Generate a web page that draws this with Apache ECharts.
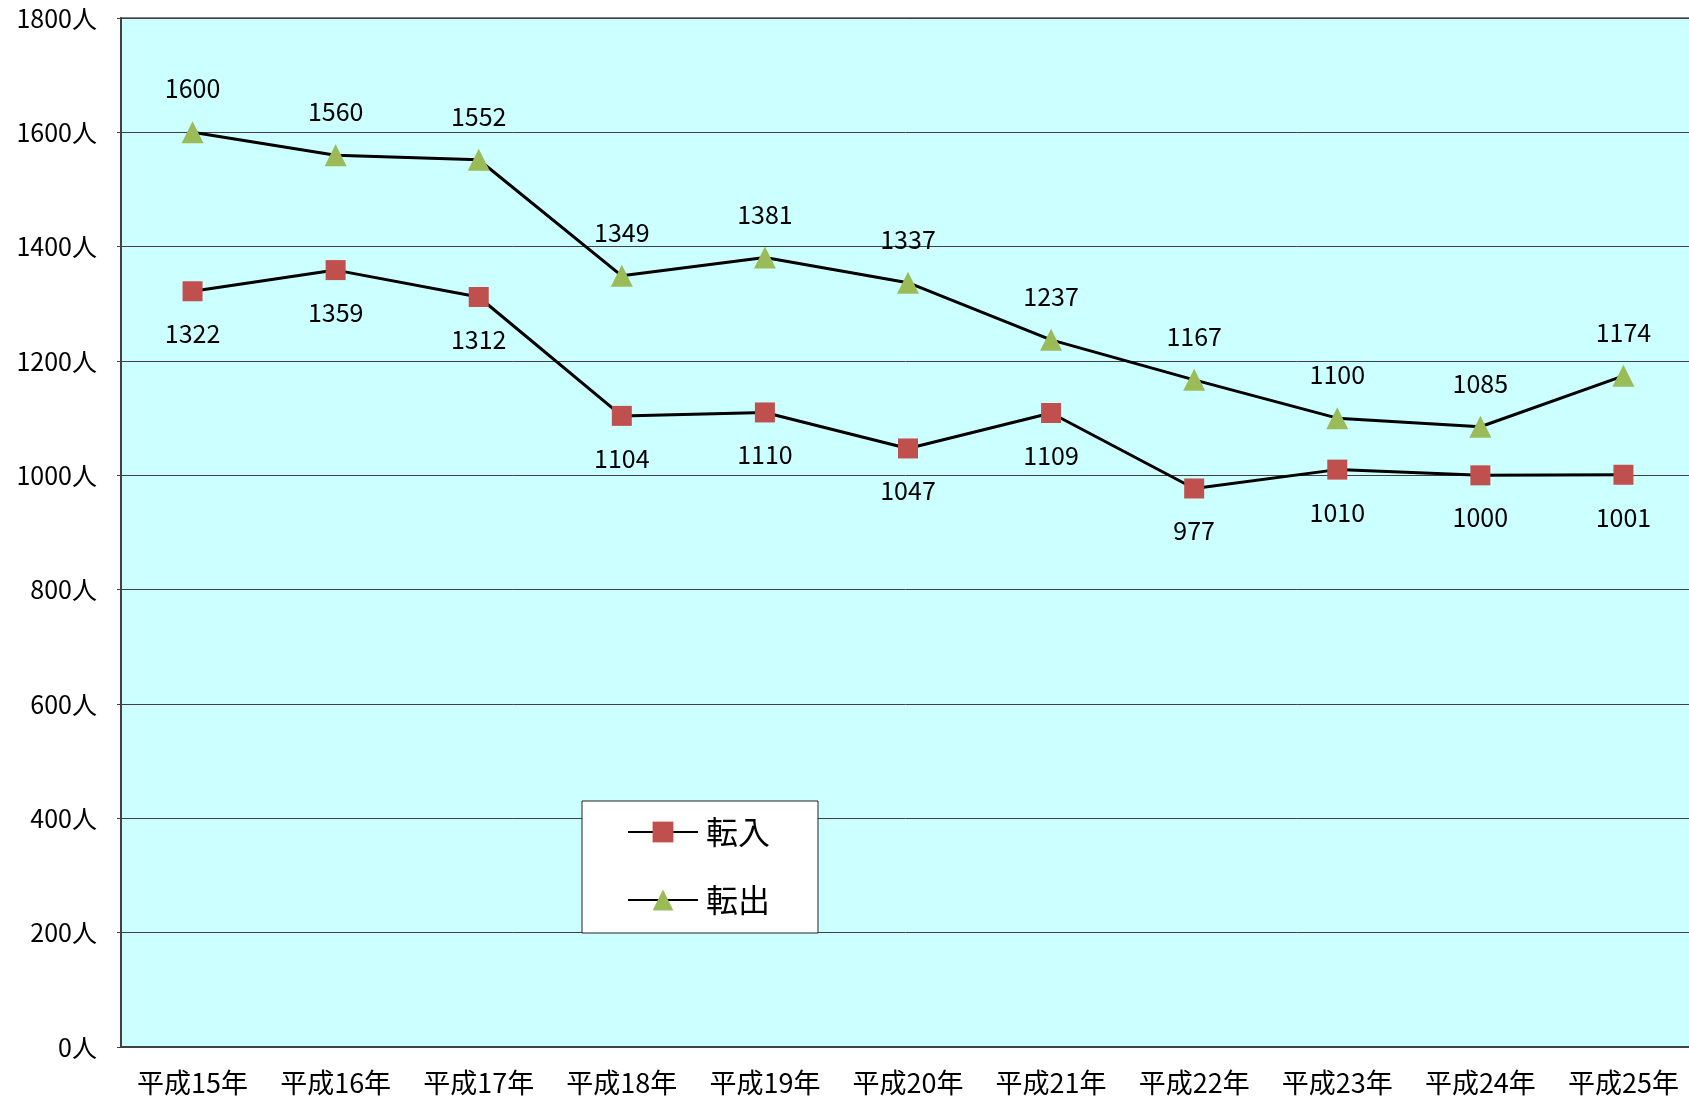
<!DOCTYPE html>
<html>
<head>
<meta charset="utf-8">
<script src="https://cdn.jsdelivr.net/npm/echarts@6/dist/echarts.min.js"></script>
<style>
  html, body { margin: 0; padding: 0; background: #fff; }
  #chart { width: 1689px; height: 1099px; }
</style>
</head>
<body>
<div id="chart"></div>
<script>
const years = ['平成15年', '平成16年', '平成17年', '平成18年', '平成19年', '平成20年', '平成21年', '平成22年', '平成23年', '平成24年', '平成25年'];
const tennyu = [1322, 1359, 1312, 1104, 1110, 1047, 1109, 977, 1010, 1000, 1001];
const tenshutsu = [1600, 1560, 1552, 1349, 1381, 1337, 1237, 1167, 1100, 1085, 1174];
const yTicks = { min: 0, max: 1800, interval: 200 };

const font = '"Noto Sans CJK JP", sans-serif';

const chart = echarts.init(document.querySelector('#chart'));

chart.setOption({
  animation: false,
  textStyle: { fontFamily: font, color: '#000' },
  grid: {
    left: 121,
    top: 18,
    width: 1574,
    bottom: 52,
    outerBoundsMode: 'none',
    containLabel: false,
    show: true,
    backgroundColor: '#CCFFFF',
    borderColor: '#808080',
    borderWidth: 2
  },
  legend: {
    orient: 'vertical',
    left: 582,
    top: 801,
    padding: [15, 48, 17, 45],
    itemGap: 36,
    itemWidth: 70,
    itemHeight: 26,
    backgroundColor: '#fff',
    borderColor: '#222',
    borderWidth: 1,
    textStyle: { fontSize: 32, fontFamily: font, color: '#000', padding: [0, 0, 0, 3] },
    data: ['転入', '転出']
  },
  xAxis: {
    type: 'category',
    data: years,
    boundaryGap: true,
    axisLine: { lineStyle: { color: '#404040', width: 2 } },
    axisTick: { inside: true, length: 7, interval: 0, lineStyle: { color: '#000', width: 1 } },
    axisLabel: { fontSize: 27, color: '#000', margin: 22, interval: 0, hideOverlap: false, fontFamily: font }
  },
  yAxis: {
    type: 'value',
    min: yTicks.min,
    max: yTicks.max,
    interval: yTicks.interval,
    axisLine: { show: true, lineStyle: { color: '#404040', width: 2 } },
    axisTick: { show: true, length: 4, lineStyle: { color: '#404040' } },
    axisLabel: { fontSize: 25, color: '#000', margin: 24, fontFamily: font, formatter: v => v + '人' },
    splitLine: { lineStyle: { color: '#404040', width: 1 } }
  },
  series: [
    {
      name: '転入',
      type: 'line',
      data: tennyu,
      symbol: 'rect',
      symbolSize: 20,
      itemStyle: { color: '#C0504D' },
      lineStyle: { color: '#000', width: 3 },
      label: { show: true, position: 'bottom', distance: 20, fontSize: 25, color: '#000', fontFamily: font },
      z: 3
    },
    {
      name: '転出',
      type: 'line',
      data: tenshutsu,
      symbol: 'triangle',
      symbolSize: 22,
      itemStyle: { color: '#9BBB59' },
      lineStyle: { color: '#000', width: 3 },
      label: { show: true, position: 'top', distance: 20, fontSize: 25, color: '#000', fontFamily: font },
      z: 3
    }
  ]
});
</script>
</body>
</html>
